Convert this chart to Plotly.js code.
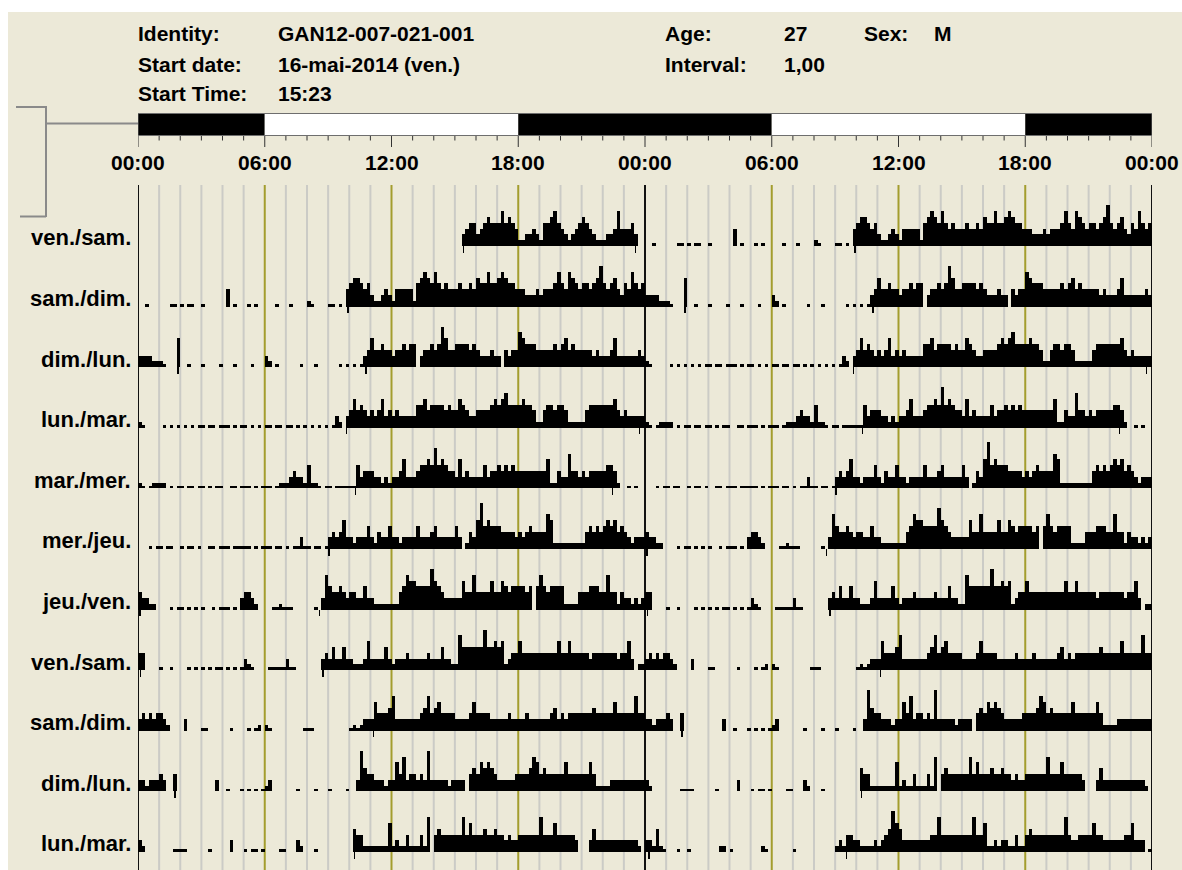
<!DOCTYPE html>
<html>
<head>
<meta charset="utf-8">
<script src="https://cdn.plot.ly/plotly-3.0.1.min.js"></script>
<style>
html,body{margin:0;padding:0;background:#ffffff;}
#chart{position:absolute;left:8px;top:12px;width:1174px;height:858px;}
</style>
</head>
<body>
<div id="chart"></div>
<script>
// ---------------- DATA ----------------
// Activity per 10-minute epoch, one string per calendar day (24 groups of 6 epochs).
// '0' = no activity, '.' = trace activity (0.5), '1'..'9' = activity level.
const dayNames = ["ven.","sam.","dim.","lun.","mar.","mer.","jeu.","ven.","sam.","dim.","lun.","mar."];

const day0  = "000000 000000 000000 000000 000000 000000 000000 000000 000000 000000 000000 000000 000000 000000 000000 002344 234544 464543 112232 144564 321234 543211 122363 334200";
const day1  = "00.000 000..0 .0..00 .00000 030.00 0.0.00 000.00 0.0000 1.0000 ..0.03 455434 211232 133333 145654 643433 343343 544644 565443 332223 233346 436543 443457 434532 436434";
const day2  = "222211 1.0005 00.000 .0000. 000.00 00.000 210.00 0000.0 00.000 000.0. 0.0.23 533433 233434 402334 347533 444434 322232 203233 654443 333343 453433 333232 223522 222232";
const day3  = "1.0000 0.0.0. 0.0.0. .0..0. ..0.0. .0.0.0 ..0..0 ..0.0. 0.0.0. 0.2102 353432 323523 232222 244534 444343 354322 333345 456444 454431 134434 431111 134444 444532 322222";
const day4  = "1.0.11 110.0. .0..0. .0.0.. 00..0. ..0.0. ..0.11 123221 411.0. .0.... ..4233 322121 223522 234454 745433 252322 224233 434343 333333 335113 226332 323333 344310 0.0.00";
const day5  = "000.0. .0..00 .0..0. 00..0. ..0... ..0.0. ..0..0 .0..2. .0..0. 232352 212224 213224 221222 242223 422222 420132 584544 433332 323433 336511 111111 134343 454534 321222";
const day6  = "322110 000.0. .0.0.0 .00.0. ..0.02 332100 00..1. ..0000 00.026 433432 332242 211111 113465 544447 543222 225336 333353 354344 443404 643444 411113 334443 363313 221212";
const day7  = "330000 .00.00 00.0.0 .0.0.. 0.0.0. 21.000 0..... 2..000 000023 242242 211125 222242 122232 222232 224221 164444 447445 451233 533333 333335 335333 332333 333323 352011";
const day8  = "232323 321000 020000 ..0000 00.000 0.0.10 1.0000 00000. ..0000 000000 .1.122 253334 622222 223463 453333 222235 333322 222322 223222 222342 323333 333433 333533 333633";
const day9  = "221222 320030 000000 000020 0.000. 0.0.0. 120000 000.00 00.000 .0000. 002743 322212 253623 323272 222212 222034 354543 222223 333465 343333 353333 335311 112222 222222";
const day10 = "210000 0000.. ..0000 00.000 002000 .0..0. 0000.. 000210 00.000 000000 043311 111115 121131 113160 343333 336353 334334 332322 333333 633353 333320 002422 222222 222210";
const day11 = "22141. 000.00 .00000 000110 .00000 0001.0 000000 .00000 000000 121332 211112 123475 422222 222336 333333 333633 511212 211311 343333 333336 322333 353322 222233 52220.";

// Event markers (clock hour) for each day
const marks0  = [15.4, 23.55];
const marks1  = [9.95];
const marks2  = [1.9, 10.8];
const marks3  = [9.87, 23.75];
const marks4  = [10.3, 22.45];
const marks5  = [9.05];
const marks6  = [0.1, 8.6];
const marks7  = [0.12, 8.75];
const marks8  = [11.15];
const marks9  = [1.74];
const marks10 = [10.25];
const marks11 = [0.2, 9.55];

// Light / dark schedule over the 48 h double plot
const phaseStart = [0, 6, 18, 30, 42];
const phaseEnd   = [6, 18, 30, 42, 48];
const phaseDark  = [1, 0, 1, 0, 1];

const tickHours = [0, 6, 12, 18, 24, 30, 36, 42, 48];
const tickText  = ["00:00","06:00","12:00","18:00","00:00","06:00","12:00","18:00","00:00"];

const headerLabels = ["Identity:", "Start date:", "Start Time:"];
const headerValues = ["GAN12-007-021-001", "16-mai-2014 (ven.)", "15:23"];
const infoLabels = ["Age:", "Interval:"];
const infoValues = ["27", "1,00"];
const sexLabel = "Sex:";
const sexValue = "M";

// ---------------- BUILD ----------------
const days = [day0,day1,day2,day3,day4,day5,day6,day7,day8,day9,day10,day11].map(function(s){
  return Array.from(s.replace(/\s+/g,'')).map(function(c){ return c === '.' ? 0.5 : Number(c); });
});
const marks = [marks0,marks1,marks2,marks3,marks4,marks5,marks6,marks7,marks8,marks9,marks10,marks11];
const NROWS = 11;
const BIN = 1/6;

// page-pixel geometry helpers (layout only)
const G = {left:138, right:1152, top:185, bottom:870};
function fx(X){ return (X - G.left) / (G.right - G.left); }
function fy(Y){ return (G.bottom - Y) / (G.bottom - G.top); }
function baseY(r){ return 246 + 60.6 * r; }

const FONT = 'Liberation Sans, Arial, sans-serif';
const traces = [];
const layout = {
  width: 1174, height: 858,
  margin: {l: 130, r: 30, t: 173, b: 0},
  paper_bgcolor: '#ECE9D8',
  plot_bgcolor: 'rgba(0,0,0,0)',
  showlegend: false,
  bargap: 0,
  barmode: 'overlay',
  xaxis: {range: [0, 48], visible: false, fixedrange: true},
  shapes: [],
  annotations: []
};

for (let r = 0; r < NROWS; r++) {
  const ya = r === 0 ? 'y' : 'y' + (r + 1);
  const yk = r === 0 ? 'yaxis' : 'yaxis' + (r + 1);
  const b = baseY(r);
  layout[yk] = {domain: [fy(b + 8), fy(b - 50)], range: [-1.38, 8.62], visible: false, fixedrange: true, anchor: 'x'};

  const x = [], y = [];
  days[r].forEach(function(v, i){ if (v > 0) { x.push((i + 0.5) * BIN); y.push(v); } });
  days[r + 1].forEach(function(v, i){ if (v > 0) { x.push(24 + (i + 0.5) * BIN); y.push(v); } });
  traces.push({type: 'bar', x: x, y: y, width: BIN, xaxis: 'x', yaxis: ya,
    marker: {color: '#000000', line: {width: 0}}, hoverinfo: 'skip'});

  const mx = marks[r].concat(marks[r + 1].map(function(h){ return h + 24; }));
  traces.push({type: 'bar', x: mx, y: mx.map(function(){ return -1.15; }), base: 0, width: 0.07,
    xaxis: 'x', yaxis: ya, marker: {color: '#000000', line: {width: 0}}, hoverinfo: 'skip'});

  layout.annotations.push({
    xref: 'paper', yref: ya, x: fx(133), y: 1.4, xanchor: 'right', yanchor: 'middle',
    text: '<b>' + dayNames[r] + '/' + dayNames[r + 1] + '</b>', showarrow: false,
    font: {family: FONT, size: 22, color: '#000'}
  });
}

// hour grid lines
for (let h = 0; h <= 48; h++) {
  let col = '#CBCBC6', w = 2;
  if (h % 24 === 0) { col = '#111111'; w = 2; }
  else if (h % 6 === 0) { col = '#A39D2E'; w = 2; }
  layout.shapes.push({type: 'line', xref: 'x', yref: 'paper', x0: h, x1: h, y0: 0, y1: 1,
    line: {color: col, width: w}, layer: 'below'});
}

// light/dark bar
for (let i = 0; i < phaseStart.length; i++) {
  layout.shapes.push({type: 'rect', xref: 'x', yref: 'paper', x0: phaseStart[i], x1: phaseEnd[i],
    y0: fy(135.5), y1: fy(113.5), fillcolor: phaseDark[i] ? '#000000' : '#FFFFFF', line: {width: 0}});
}
layout.shapes.push({type: 'rect', xref: 'x', yref: 'paper', x0: 0, x1: 48, y0: fy(135.5), y1: fy(113.5),
  line: {color: '#6E6E6E', width: 1}});

// ticks under the bar
for (let h = 0; h <= 48; h++) {
  layout.shapes.push({type: 'line', xref: 'x', yref: 'paper', x0: h, x1: h,
    y0: fy(136), y1: fy(h % 6 === 0 ? 147 : 140.5), line: {color: '#333333', width: 1}});
}

// bracket
const BR = '#8A8A8A';
layout.shapes.push({type: 'line', xref: 'paper', yref: 'paper', x0: fx(16), x1: fx(46), y0: fy(107), y1: fy(107), line: {color: BR, width: 2}});
layout.shapes.push({type: 'line', xref: 'paper', yref: 'paper', x0: fx(46), x1: fx(46), y0: fy(106), y1: fy(217), line: {color: BR, width: 2}});
layout.shapes.push({type: 'line', xref: 'paper', yref: 'paper', x0: fx(20), x1: fx(46), y0: fy(216.5), y1: fy(216.5), line: {color: BR, width: 2}});
layout.shapes.push({type: 'line', xref: 'paper', yref: 'paper', x0: fx(46), x1: fx(138), y0: fy(123.5), y1: fy(123.5), line: {color: BR, width: 2}});

// hour labels
tickHours.forEach(function(h, i){
  layout.annotations.push({xref: 'x', yref: 'paper', x: h, y: fy(162), xanchor: 'center', yanchor: 'middle',
    text: '<b>' + tickText[i] + '</b>', showarrow: false, font: {family: FONT, size: 21, color: '#000'}});
});

// header
function hdr(X, Y, t){
  layout.annotations.push({xref: 'paper', yref: 'paper', x: fx(X), y: fy(Y), xanchor: 'left', yanchor: 'middle',
    text: '<b>' + t + '</b>', showarrow: false, font: {family: FONT, size: 21, color: '#000'}});
}
const rowY = [34, 64.5, 93.5];
headerLabels.forEach(function(t, i){ hdr(136, rowY[i], t); });
headerValues.forEach(function(t, i){ hdr(276, rowY[i], t); });
infoLabels.forEach(function(t, i){ hdr(663, rowY[i], t); });
infoValues.forEach(function(t, i){ hdr(782, rowY[i], t); });
hdr(862, rowY[0], sexLabel);
hdr(932, rowY[0], sexValue);

Plotly.newPlot('chart', traces, layout, {staticPlot: true, displayModeBar: false});
</script>
</body>
</html>
